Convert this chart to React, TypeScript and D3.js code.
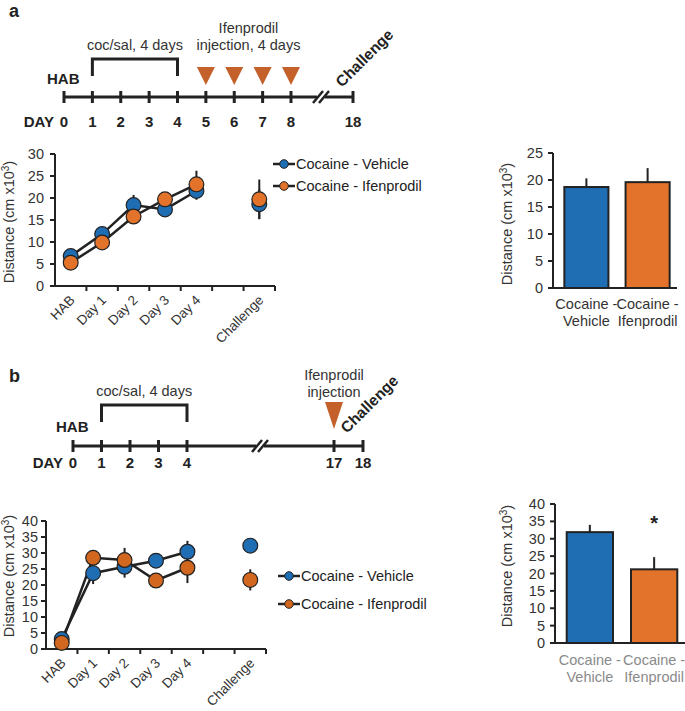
import React from "react";
import * as d3 from "d3";

const FONT = "'Liberation Sans', Arial, sans-serif";
const INK = "#222";
const BLUE = "#1f6db2";
const ORANGE = "#e3732b";
const ORANGE_B = "#d2671f";
const TRI = "#c4612a";
const FS = 14.5;

// sessions shown on the line charts (blank slot before Challenge)
const slots = ["HAB", "Day 1", "Day 2", "Day 3", "Day 4", "", "Challenge"];
const sessions = ["HAB", "Day 1", "Day 2", "Day 3", "Day 4", "Challenge"];

// panel a
const aVehicle = [6.8, 11.8, 18.4, 17.4, 21.6, 18.6];
const aVehicleErr = [0.6, 1.0, 2.3, 1.0, 2.0, 3.4];
const aIfen = [5.3, 9.9, 15.8, 19.7, 23.1, 19.7];
const aIfenErr = [0.6, 0.8, 1.0, 1.0, 3.1, 4.5];
const aBars = [18.7, 19.6];
const aBarsErr = [1.6, 2.6];

// panel b
const bVehicle = [3.1, 23.7, 25.7, 27.6, 30.4, 32.3];
const bVehicleErr = [0.5, 3.4, 3.4, 1.5, 3.4, 1.2];
const bIfen = [1.9, 28.5, 27.8, 21.4, 25.4, 21.6];
const bIfenErr = [0.5, 1.5, 3.8, 1.5, 4.8, 3.3];
const bBars = [31.9, 21.2];
const bBarsErr = [2.1, 3.5];

const groups = [["Cocaine -", "Vehicle"], ["Cocaine -", "Ifenprodil"]];
const legendNames = ["Cocaine - Vehicle", "Cocaine - Ifenprodil"];

// timelines
const aDays = [0, 1, 2, 3, 4, 5, 6, 7, 8, 18];
const aInjections = [5, 6, 7, 8];
const bDays = [0, 1, 2, 3, 4, 17, 18];
const bInjections = [17];

const YLabel = ({ x, y }) => (
  <text transform={`translate(${x},${y}) rotate(-90)`} textAnchor="middle" fontSize={FS} fill="#333">
    Distance (cm x10<tspan fontSize={10} dy={-5}>3</tspan>
    <tspan dy={5}>)</tspan>
  </text>
);

const Timeline = ({ days, injections, domain, range, lineY, breakX, dayY, habY, bracketTop, bracketText, injText, injTextY, triTop, triH, challengeAt }) => {
  const x = d3.scaleLinear().domain(domain).range(range);
  const x0 = x(days[0]);
  const xEnd = x(days[days.length - 1]);
  return (
    <g fontFamily={FONT}>
      <line x1={x0} x2={breakX - 4} y1={lineY} y2={lineY} stroke={INK} strokeWidth={3} />
      <line x1={breakX + 4} x2={xEnd} y1={lineY} y2={lineY} stroke={INK} strokeWidth={3} />
      {[-3, 3].map((o) => (
        <line key={o} x1={breakX + o - 5} y1={lineY + 6} x2={breakX + o + 5} y2={lineY - 6} stroke={INK} strokeWidth={2.5} />
      ))}
      {days.map((d) => (
        <g key={d}>
          <line x1={x(d)} x2={x(d)} y1={lineY - 6} y2={lineY + 6} stroke={INK} strokeWidth={3} />
          <text x={x(d)} y={dayY} textAnchor="middle" fontSize={15} fontWeight="bold" fill={INK}>{d}</text>
        </g>
      ))}
      <text x={x0 - 10} y={dayY} textAnchor="end" fontSize={15} fontWeight="bold" fill={INK}>DAY</text>
      <text x={x0 - 17} y={habY} fontSize={15} fontWeight="bold" fill={INK}>HAB</text>
      <path d={`M${x(1)},${bracketTop + 17}V${bracketTop}H${x(4)}V${bracketTop + 17}`} fill="none" stroke={INK} strokeWidth={3} />
      <text x={(x(1) + x(4)) / 2} y={bracketTop - 9} textAnchor="middle" fontSize={FS} fill="#333">{bracketText}</text>
      {injText.map((t, i) => (
        <text key={i} x={d3.mean(injections, x)} y={injTextY + i * 17} textAnchor="middle" fontSize={FS} fill="#333">{t}</text>
      ))}
      {injections.map((d) => (
        <path key={d} d={`M${x(d) - 9},${triTop}L${x(d) + 9},${triTop}L${x(d)},${triTop + triH}Z`} fill={TRI} />
      ))}
      <text transform={`translate(${challengeAt[0]},${challengeAt[1]}) rotate(-45)`} fontSize={15.5} fontWeight="bold" fill={INK}>Challenge</text>
    </g>
  );
};

const LineChart = ({ left, right, y0, yTop, max, step, veh, vehErr, ifen, ifenErr, orange, legendX, legendY, legendGap, tickGap }) => {
  const x = d3.scaleBand().domain(slots.map((s, i) => String(i))).range([left, right]);
  const cx = (i) => x(String(slots.indexOf(sessions[i]))) + x.bandwidth() / 2;
  const y = d3.scaleLinear().domain([0, max]).range([y0, yTop]);
  const line = d3.line().x((d, i) => cx(i)).y((d) => y(d));
  const series = [
    { v: veh, e: vehErr, c: BLUE },
    { v: ifen, e: ifenErr, c: orange },
  ];
  return (
    <g fontFamily={FONT}>
      <line x1={left} x2={left} y1={y0} y2={yTop} stroke={INK} strokeWidth={2} />
      <line x1={left} x2={right} y1={y0} y2={y0} stroke={INK} strokeWidth={2} />
      {d3.range(0, max + 1, step).map((t) => (
        <g key={t}>
          <line x1={left - 5} x2={left} y1={y(t)} y2={y(t)} stroke={INK} strokeWidth={2} />
          <text x={left - tickGap} y={y(t)} dy="0.35em" textAnchor="end" fontSize={FS} fill="#333">{t}</text>
        </g>
      ))}
      {slots.map((s, i) => (
        <g key={i}>
          <line x1={x(String(i)) + x.bandwidth()} x2={x(String(i)) + x.bandwidth()} y1={y0} y2={y0 + 5} stroke={INK} strokeWidth={2} />
          <text transform={`translate(${x(String(i)) + x.bandwidth() / 2 + 5},${y0 + 15}) rotate(-45)`} textAnchor="end" fontSize={13.5} fill="#333">{s}</text>
        </g>
      ))}
      {series.map((s, k) =>
        s.v.map((v, i) => (
          <line key={`${k}-${i}`} x1={cx(i)} x2={cx(i)} y1={y(v - s.e[i])} y2={y(v + s.e[i])} stroke={INK} strokeWidth={2} />
        ))
      )}
      {series.map((s, k) => (
        <path key={k} d={line(s.v.slice(0, 5))} fill="none" stroke={INK} strokeWidth={2.5} />
      ))}
      {series.map((s, k) =>
        s.v.map((v, i) => (
          <circle key={`${k}-${i}`} cx={cx(i)} cy={y(v)} r={7.4} fill={s.c} stroke={INK} strokeWidth={1.2} />
        ))
      )}
      {series.map((s, k) => (
        <g key={k} transform={`translate(${legendX},${legendY + k * legendGap})`}>
          <line x1={0} x2={22} y1={0} y2={0} stroke={INK} strokeWidth={2.5} />
          <circle cx={11} cy={0} r={4.3} fill={s.c} stroke={INK} strokeWidth={1} />
          <text x={23} y={0} dy="0.35em" fontSize={FS} fill="#222">{legendNames[k]}</text>
        </g>
      ))}
    </g>
  );
};

const BarChart = ({ left, right, y0, yTop, max, step, vals, errs, labelFill, labelY, star }) => {
  const x = d3.scaleBand().domain(["0", "1"]).range([left + 4, right]).paddingInner(0.28).paddingOuter(0.12);
  const y = d3.scaleLinear().domain([0, max]).range([y0, yTop]);
  const fills = [BLUE, ORANGE];
  return (
    <g fontFamily={FONT}>
      {vals.map((v, i) => (
        <g key={i}>
          <line x1={x(String(i)) + x.bandwidth() / 2} x2={x(String(i)) + x.bandwidth() / 2} y1={y(v)} y2={y(v + errs[i])} stroke={INK} strokeWidth={2} />
          <rect x={x(String(i))} y={y(v)} width={x.bandwidth()} height={y0 - y(v)} fill={fills[i]} stroke={INK} strokeWidth={2} />
          {groups[i].map((t, j) => (
            <text key={j} x={x(String(i)) + x.bandwidth() / 2} y={labelY + j * 17} textAnchor="middle" fontSize={FS} fill={labelFill}>{t}</text>
          ))}
        </g>
      ))}
      {star && (
        <text x={x("1") + x.bandwidth() / 2} y={y(max) + 26} textAnchor="middle" fontSize={20} fontWeight="bold" fill={INK}>*</text>
      )}
      <line x1={left} x2={left} y1={y0} y2={yTop} stroke={INK} strokeWidth={2} />
      <line x1={left} x2={right} y1={y0} y2={y0} stroke={INK} strokeWidth={2} />
      {d3.range(0, max + 1, step).map((t) => (
        <g key={t}>
          <line x1={left - 5} x2={left} y1={y(t)} y2={y(t)} stroke={INK} strokeWidth={2} />
          <text x={left - 10} y={y(t)} dy="0.35em" textAnchor="end" fontSize={FS} fill="#333">{t}</text>
        </g>
      ))}
    </g>
  );
};

export default function App() {
  return (
    <svg width={685} height={711} style={{ position: "absolute", left: 0, top: 0, background: "#fff" }} fontFamily={FONT}>
      <text x={9} y={17} fontSize={18} fontWeight="bold" fill={INK}>a</text>
      <Timeline
        days={aDays}
        injections={aInjections}
        domain={[0, 8, 18]}
        range={[64, 291, 353]}
        lineY={97}
        breakX={321}
        dayY={127}
        habY={84}
        bracketTop={59}
        bracketText="coc/sal, 4 days"
        injText={["Ifenprodil", "injection, 4 days"]}
        injTextY={33}
        triTop={67}
        triH={18}
        challengeAt={[342, 88]}
      />
      <LineChart left={55} right={275} y0={286} yTop={154} max={30} step={5}
        veh={aVehicle} vehErr={aVehicleErr} ifen={aIfen} ifenErr={aIfenErr} orange={ORANGE}
        legendX={273} legendY={164} legendGap={22} tickGap={11} />
      <YLabel x={14} y={222} />
      <BarChart left={553} right={677} y0={288} yTop={153} max={25} step={5}
        vals={aBars} errs={aBarsErr} labelFill="#333" labelY={309} star={false} />
      <YLabel x={512} y={224} />

      <text x={9} y={382} fontSize={18} fontWeight="bold" fill={INK}>b</text>
      <Timeline
        days={bDays}
        injections={bInjections}
        domain={[0, 4, 17, 18]}
        range={[73, 187, 334, 363]}
        lineY={446}
        breakX={260}
        dayY={468}
        habY={432}
        bracketTop={405}
        bracketText="coc/sal, 4 days"
        injText={["Ifenprodil", "injection"]}
        injTextY={380}
        triTop={402}
        triH={27}
        challengeAt={[347, 434]}
      />
      <LineChart left={46} right={266} y0={649} yTop={521} max={40} step={5}
        veh={bVehicle} vehErr={bVehicleErr} ifen={bIfen} ifenErr={bIfenErr} orange={ORANGE_B}
        legendX={278} legendY={576} legendGap={28} tickGap={8} />
      <YLabel x={14} y={576} />
      <BarChart left={555} right={685} y0={643} yTop={504} max={40} step={5}
        vals={bBars} errs={bBarsErr} labelFill="#8a8a8a" labelY={665} star={true} />
      <YLabel x={512} y={566} />
    </svg>
  );
}
